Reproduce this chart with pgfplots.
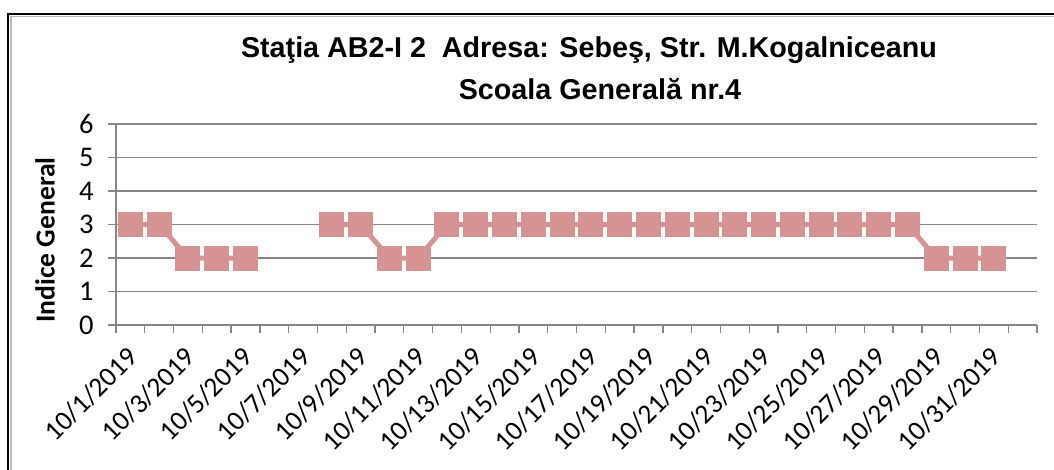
\documentclass[border=0pt]{standalone}
\usepackage{pgfplots}
\pgfplotsset{compat=1.18}
\usepackage{fontspec}
\setmainfont{Carlito}
\newfontfamily\arialfont{Liberation Sans}
\definecolor{ser}{RGB}{213,147,147}
\definecolor{gridc}{RGB}{134,134,134}

\begin{document}
\begin{tikzpicture}[x=1pt,y=1pt]
\useasboundingbox (0,0) rectangle (1054,-470);
% frame of the chart area (cut off at right and bottom)
\draw[black, line width=2.6pt] (7.8,-470) -- (7.8,-14.2) -- (1054,-14.2);
\draw[gray!55, line width=1.3pt] (11,-470) -- (11,-16.2) -- (1054,-16.2);

\node[font=\arialfont\bfseries\fontsize{28.7}{28.7}\selectfont, anchor=base] at (589,-58) {Staţia AB2-I 2\ \ Adresa: Sebeş, Str. M.Kogalniceanu};
\node[font=\arialfont\bfseries\fontsize{28.7}{28.7}\selectfont, anchor=base] at (600,-100) {Scoala Generală nr.4};
\node[font=\bfseries\fontsize{27.6}{27.6}\selectfont, rotate=90] at (45,-240) {Indice General};

\begin{axis}[
    at={(116pt,-325pt)}, anchor=south west,
    scale only axis, width=921pt, height=201pt,
    xmin=0.5, xmax=32.5, ymin=0, ymax=6,
    ytick={0,1,...,6},
    xtick={0.5,1.5,...,32.5}, xticklabels={},
    extra x ticks={1,3,...,31},
    extra x tick labels={10/1/2019,10/3/2019,10/5/2019,10/7/2019,10/9/2019,10/11/2019,10/13/2019,10/15/2019,10/17/2019,10/19/2019,10/21/2019,10/23/2019,10/25/2019,10/27/2019,10/29/2019,10/31/2019},
    extra x tick style={major tick length=0pt, grid=none,
        tick label style={rotate=45, anchor=north east, xshift=-14pt, yshift=-7.4pt,
        font=\fontsize{27.5}{27.5}\selectfont}},
    axis x line*=bottom, axis y line*=left,
    axis line style={gridc, line width=1.3pt},
    ymajorgrids, grid style={gridc, line width=1.3pt},
    tick align=outside, major tick length=8pt,
    tick style={gridc, line width=1.3pt},
    yticklabel style={font=\fontsize{28.5}{28.5}\selectfont, xshift=-11pt},
    /pgf/number format/assume math mode=true,
    unbounded coords=jump,
    clip=false,
]
\addplot[ser, line width=5pt, mark=square*, mark size=10pt, mark options={solid, fill=ser, draw=none}]
coordinates {
(1,3) (2,3) (3,2) (4,2) (5,2) (6,nan) (7,nan)
(8,3) (9,3) (10,2) (11,2) (12,3) (13,3) (14,3) (15,3) (16,3)
(17,3) (18,3) (19,3) (20,3) (21,3) (22,3) (23,3) (24,3) (25,3)
(26,3) (27,3) (28,3) (29,2) (30,2) (31,2)
};
\end{axis}
\end{tikzpicture}
\end{document}
